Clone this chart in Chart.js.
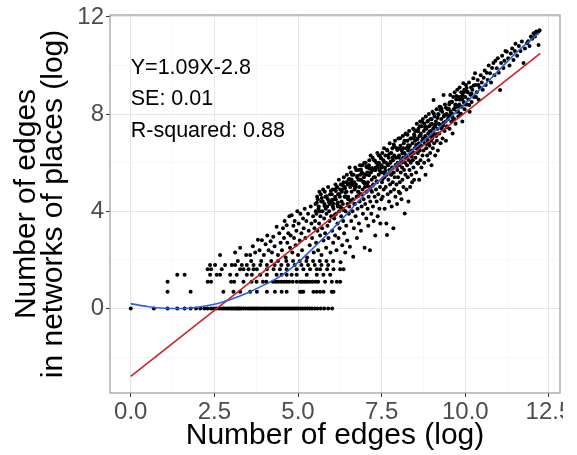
<!DOCTYPE html>
<html>
<head>
<meta charset="utf-8">
<script src="https://cdn.jsdelivr.net/npm/chart.js@4/dist/chart.umd.min.js"></script>
<style>
html,body{margin:0;padding:0;background:#fff;}
canvas{display:block;}
</style>
</head>
<body>
<canvas id="c" width="577" height="455"></canvas>
<script>
// ---- axis ticks ----
const xMajorTicks = [0, 2.5, 5, 7.5, 10, 12.5];
const xMinorTicks = [1.25, 3.75, 6.25, 8.75, 11.25];
const yMajorTicks = [0, 4, 8, 12];
const yMinorTicks = [-2, 2, 6, 10];

// ---- annotation text ----
const statLines = ['Y=1.09X-2.8', 'SE: 0.01', 'R-squared: 0.88'];

// ---- discrete low rows (y = log of small counts) ----
const rowLevels = [0, 0.69, 1.1, 1.39, 1.61, 1.79, 1.95];
const rowX0 = [0,0.69,1.1,1.39,1.61,1.79,1.95,2.08,2.2,2.3,2.4,2.48,2.56,2.64,2.71,2.77,2.83,2.89,2.94,3.0,3.04,3.09,3.14,3.18,3.22,3.26,3.3,3.37,3.43,3.5,3.56,3.61,3.66,3.71,3.76,3.81,3.87,3.93,3.99,4.04,4.1,4.16,4.22,4.28,4.34,4.4,4.46,4.52,4.58,4.64,4.7,4.76,4.82,4.88,4.94,5.0,5.07,5.14,5.21,5.28,5.35,5.42,5.5,5.58,5.68,5.78,5.9,6.02];
const rowX1 = [1.1,1.79,2.77,3.07,3.27,3.57,3.77,4.07,4.31,4.51,4.66,5.06,5.1,5.16,5.46,5.56,5.66,5.76,6.01,6.06];
const rowX2 = [1.1,2.3,2.4,3.0,3.09,3.37,3.61,3.76,3.95,4.05,4.25,4.33,4.41,4.5,4.58,4.66,4.74,4.84,4.96,5.06,5.13,5.2,5.27,5.35,5.43,5.52,5.6,5.81,6.01,6.16,6.26];
const rowX3 = [1.39,1.61,2.37,2.57,2.67,2.97,3.17,3.47,3.62,3.87,4.07,4.36,4.51,4.66,4.81,4.96,5.26,5.56,5.76,5.96];
const rowX4 = [2.3,2.4,2.72,3.27,3.37,3.52,3.67,3.77,4.07,4.27,4.46,4.66,4.96,5.16,5.36,5.56,5.66,5.87,6.06,6.26,6.36];
const rowX5 = [2.37,2.52,2.82,3.02,3.12,3.32,3.47,3.67,3.87,4.07,4.3,4.5,4.7,4.9,5.1,5.3,5.5,5.7,5.9];
const rowX6 = [3.2,3.6,3.9,4.2,4.4,4.65,4.85,5.05,5.25,5.45,5.65,5.85,6.05];

// ---- main point cloud [x, y] ----
const cloudLow = [
[2.67,2.2],[3.27,2.5],[3.12,2.3],[3.45,2.2],
[3.57,2.2],[3.65,2.56],[3.72,2.3],[3.8,2.83],[3.85,2.4],[3.92,2.81],[3.98,2.2],[4.03,2.64],[4.08,3.0],[4.12,2.4],[4.18,2.77],[4.22,2.3],[4.26,2.95],[4.3,2.56],[4.36,3.36],[4.4,2.2],[4.44,3.1],[4.48,2.7],
[4.52,2.4],[4.55,3.3],[4.58,2.9],[4.6,3.6],[4.63,2.1],[4.66,3.43],[4.68,2.7],[4.71,3.1],[4.74,3.8],[4.76,2.5],[4.78,3.0],[4.81,3.84],[4.83,2.3],[4.86,3.4],[4.88,2.9],[4.9,3.6],[4.93,2.6],[4.95,3.2],[4.98,4.0],[5.0,2.2],[5.02,3.5],[5.05,2.8],[5.07,3.9],[5.1,3.1],[5.12,2.4],[5.15,3.7],[5.17,3.3],[5.2,4.1],[5.22,2.9],[5.25,3.6],[5.27,2.1],[5.3,3.9],[5.32,3.2],[5.35,2.6],[5.38,4.2],[5.4,3.5],[5.42,2.9],[5.45,3.8],[5.47,2.3],[5.49,3.3]
];
const cloudMid = [
[5.51,3.6],[5.52,4.3],[5.54,2.7],[5.55,3.9],[5.57,4.6],[5.58,3.2],[5.6,2.4],[5.61,4.1],[5.63,3.5],[5.64,4.8],[5.66,3.0],[5.67,3.8],[5.69,4.4],[5.7,2.2],[5.72,3.3],[5.73,4.0],[5.75,4.9],[5.76,2.8],[5.78,3.7],[5.79,4.3],[5.81,3.1],[5.82,4.6],[5.84,2.5],[5.85,3.9],[5.87,4.2],[5.88,3.4],[5.9,5.0],[5.91,2.9],[5.93,4.0],[5.94,3.6],[5.96,4.7],[5.97,2.3],[5.99,3.8],[6.0,4.4],[6.02,3.2],[6.03,4.9],[6.05,2.7],[6.06,4.1],[6.08,3.7],[6.09,4.5],[6.11,3.0],[6.12,5.1],[6.14,3.9],[6.15,2.4],[6.17,4.3],[6.18,3.5],[6.2,4.7],[6.21,2.9],[6.23,4.0],[6.24,3.3],[6.26,4.9],[6.27,1.9],[6.29,3.8],[6.3,4.4],[6.32,2.6],[6.33,4.1],[6.35,3.6],[6.36,5.2],[6.38,3.1],[6.39,4.6],[6.41,2.3],[6.42,4.0],[6.44,3.4],[6.45,4.8],[6.47,2.8],[6.48,4.3],
[5.53,4.0],[5.59,4.5],[5.62,4.2],[5.68,4.7],[5.74,4.4],[5.8,4.8],[5.83,4.1],[5.89,4.5],[5.95,4.3],[6.01,4.7],[6.04,4.2],[6.1,4.9],[6.13,4.5],[6.16,5.0],[6.19,4.2],[6.22,5.3],[6.25,4.6],[6.28,5.1],[6.31,4.8],[6.34,4.3],[6.37,5.4],[6.4,5.0],[6.43,4.6],[6.46,5.5],[6.49,5.1],
[6.5,4.6],[6.51,5.3],[6.52,3.9],[6.53,4.2],[6.55,2.54],[6.56,5.0],[6.57,4.4],[6.58,5.6],[6.59,3.6],[6.6,4.8],[6.62,5.2],[6.63,4.0],[6.64,4.5],[6.65,2.13],[6.66,5.5],[6.67,3.3],[6.69,4.9],[6.7,4.3],[6.71,5.8],[6.72,3.8],[6.73,5.1],[6.75,4.6],[6.76,2.9],[6.77,5.4],[6.78,4.1],[6.79,4.8],[6.81,5.7],[6.82,3.5],[6.83,5.0],[6.84,4.4],[6.85,5.9],[6.87,4.7],[6.88,3.2],[6.89,5.3],[6.9,4.2],[6.91,5.6],[6.93,4.9],[6.94,3.9],[6.95,5.2],[6.96,4.5],[6.98,6.0],[6.99,2.5],[7.0,5.0],[7.01,4.3],[7.03,5.5],[7.04,3.7],[7.05,4.8],[7.06,5.8],[7.08,4.1],[7.09,5.2],[7.1,3.4],[7.11,4.6],[7.13,6.1],[7.14,5.0],[7.15,2.4],[7.16,4.4],[7.18,5.6],[7.19,3.9],[7.2,5.3],[7.21,4.8],[7.23,6.2],[7.24,4.2],[7.25,5.1],[7.26,3.6],[7.28,5.7],[7.29,4.6],[7.3,5.4],[7.31,3.0],[7.33,4.9],[7.34,6.0],[7.35,4.4],[7.36,5.2],[7.38,3.8],[7.39,5.8],[7.4,4.7],[7.41,5.5],[7.43,4.1],[7.44,6.3],[7.45,5.0],[7.46,3.5],[7.48,5.6],[7.49,4.5],
[6.54,5.8],[6.61,5.5],[6.68,5.2],[6.74,5.7],[6.8,5.3],[6.86,5.5],[6.92,5.9],[6.97,5.4],[7.02,6.0],[7.07,5.6],[7.12,5.9],[7.17,6.3],[7.22,5.7],[7.27,6.1],[7.32,5.8],[7.37,6.4],[7.42,6.0],[7.47,6.2]
];
const cloudHigh = [
[7.5,5.9],[7.51,5.2],[7.52,6.4],[7.53,4.6],[7.54,5.6],[7.55,6.1],[7.56,4.9],[7.57,6.6],[7.58,5.4],[7.59,4.1],[7.6,5.8],[7.61,6.3],[7.62,5.0],[7.63,6.0],[7.64,3.5],[7.65,5.5],[7.66,3.02],[7.67,6.5],[7.68,4.7],[7.69,5.9],[7.7,5.3],[7.71,6.2],[7.72,4.4],[7.73,5.7],[7.74,6.8],[7.75,5.1],[7.76,6.0],[7.77,4.8],[7.78,5.5],[7.79,6.4],[7.8,4.2],[7.81,5.8],[7.82,6.6],[7.83,5.2],[7.84,6.1],[7.85,3.3],[7.86,5.6],[7.87,4.9],[7.88,6.3],[7.89,5.4],[7.9,6.9],[7.91,4.6],[7.92,5.9],[7.93,6.2],[7.94,5.1],[7.95,6.6],[7.96,4.3],[7.97,5.7],[7.98,6.0],[7.99,5.4],[8.0,7.0],[8.01,4.8],[8.02,6.3],[8.03,5.9],[8.04,5.2],[8.05,4.74],[8.06,6.7],[8.07,5.6],[8.08,6.1],[8.09,4.5],[8.1,6.5],[8.11,5.8],[8.12,5.3],[8.13,7.1],[8.14,6.2],[8.15,5.0],[8.16,6.8],[8.17,5.7],[8.18,6.4],[8.19,3.91],[8.2,6.0],[8.21,5.5],[8.22,7.2],[8.23,6.6],[8.24,4.9],[8.25,6.2],[8.26,5.9],[8.27,6.9],[8.28,5.4],[8.29,6.5],[8.3,4.4],[8.31,6.1],[8.32,7.3],[8.33,5.7],[8.34,6.7],[8.35,5.0],[8.36,6.3],[8.37,6.0],[8.38,7.0],[8.39,5.5],[8.4,6.5],[8.41,5.2],[8.42,6.8],[8.43,6.1],[8.44,7.4],[8.45,5.8],[8.46,6.4],[8.47,5.3],[8.48,7.1],[8.49,6.6],
[8.5,6.9],[8.51,6.2],[8.52,7.3],[8.53,5.6],[8.54,6.6],[8.55,7.6],[8.56,6.0],[8.57,7.0],[8.58,6.4],[8.59,5.97],[8.6,7.4],[8.61,6.8],[8.62,5.3],[8.63,7.1],[8.64,6.5],[8.65,7.7],[8.66,6.1],[8.67,7.2],[8.68,6.7],[8.69,5.8],[8.7,7.5],[8.71,6.9],[8.72,6.3],[8.73,7.8],[8.74,7.0],[8.75,6.5],[8.76,7.3],[8.77,6.0],[8.78,7.6],[8.79,6.8],[8.8,7.1],[8.81,5.5],[8.82,7.9],[8.83,6.6],[8.84,7.4],[8.85,7.0],[8.86,6.3],[8.87,7.7],[8.88,6.9],[8.89,7.2],[8.9,6.1],[8.91,8.0],[8.92,7.5],[8.93,6.7],[8.94,7.1],[8.95,6.4],[8.96,7.8],[8.97,7.3],[8.98,6.9],[8.99,5.9],[9.0,7.6],[9.01,7.0],[9.02,8.1],[9.03,6.6],[9.04,7.4],[9.05,8.58],[9.06,7.2],[9.07,6.8],[9.08,7.9],[9.09,7.5],[9.1,6.3],[9.12,7.7],[9.13,7.1],[9.14,8.2],[9.15,6.9],[9.17,7.4],[9.18,6.5],[9.19,8.0],[9.21,7.6],[9.22,7.2],[9.23,8.3],[9.25,8.17],[9.26,6.8],[9.28,7.8],[9.29,7.4],[9.31,8.1],[9.32,7.0],[9.34,7.6],[9.35,8.79],[9.36,7.9],[9.38,7.3],[9.39,8.4],[9.41,7.7],[9.42,6.9],[9.44,8.0],[9.45,7.5],[9.47,8.2],[9.48,7.8]
];
const cloudTop = [
[9.5,7.9],[9.52,8.4],[9.53,7.4],[9.55,8.79],[9.56,8.1],[9.58,7.7],[9.59,8.5],[9.61,8.0],[9.62,7.2],[9.64,8.7],[9.65,8.2],[9.67,7.8],[9.68,8.9],[9.7,8.4],[9.71,7.6],[9.73,8.6],[9.74,8.1],[9.76,9.0],[9.77,8.3],[9.79,7.9],[9.8,8.7],[9.82,8.4],[9.83,9.1],[9.85,8.0],[9.86,8.6],[9.88,8.9],[9.89,8.3],[9.91,7.7],[9.92,8.8],[9.94,9.27],[9.95,8.5],[9.97,9.0],[9.98,8.2],[10.0,8.7],[10.02,9.2],[10.04,9.07],[10.05,8.4],[10.07,8.9],[10.09,8.6],[10.11,9.3],[10.13,8.1],[10.15,8.8],[10.17,9.1],[10.19,8.5],[10.21,9.0],[10.24,9.48],[10.26,8.7],[10.29,9.68],[10.31,9.2],[10.34,8.9],[10.37,9.4],[10.4,8.6],[10.43,9.1],[10.46,9.6],[10.49,9.3],
[10.52,9.0],[10.55,9.5],[10.58,9.8],[10.61,9.2],[10.64,9.7],[10.67,9.4],[10.7,10.0],[10.74,9.68],[10.77,9.3],[10.8,9.9],[10.84,10.1],[10.87,9.6],[10.9,10.2],[10.94,9.89],[10.97,10.3],[11.0,9.7],[11.04,8.99],[11.07,10.1],[11.1,10.4],[11.14,9.9],[11.17,10.2],[11.2,10.6],[11.24,10.57],[11.28,10.3],[11.32,10.0],[11.36,10.5],[11.4,10.7],[11.44,10.23],[11.48,10.6],[11.5,10.9],
[11.55,10.4],[11.6,10.8],[11.65,10.6],[11.69,10.99],[11.74,10.1],[11.78,10.7],[11.84,10.92],[11.88,11.0],[11.92,10.8],[11.96,11.2],[12.0,11.1],[12.04,11.33],[12.08,11.2],[12.12,11.4],[12.14,11.33],[12.19,11.4],[12.19,10.85],[12.22,11.45]
];
// densest part of the band
const cloudDense = [
[6.02,4.47],[6.09,3.85],[6.13,4.84],[6.19,4.36],[6.24,4.21],[6.31,4.89],[6.36,4.05],[6.42,4.76],[6.47,4.57],[6.53,5.33],[6.58,4.44],[6.62,5.08],[6.68,4.3],[6.72,4.99],[6.77,5.45],[6.81,4.79],[6.86,5.3],[6.9,4.69],[6.95,5.55],[6.99,5.14],
[7.04,5.84],[7.08,5.04],[7.12,5.48],[7.17,4.89],[7.21,5.78],[7.26,5.39],[7.3,6.08],[7.35,5.24],[7.39,5.88],[7.44,5.68],[7.48,6.18],[7.53,5.33],[7.57,6.03],[7.61,5.67],[7.66,6.53],[7.7,5.92],[7.75,6.38],[7.79,5.52],[7.83,6.21],[7.88,6.67],[7.92,5.91],[7.97,6.52],
[8.01,6.21],[8.05,7.01],[8.1,6.01],[8.14,6.6],[8.18,6.9],[8.23,6.3],[8.27,7.15],[8.31,6.64],[8.36,7.0],[8.4,6.24],[8.45,7.02],[8.49,7.34],[8.53,6.73],[8.58,7.29],[8.62,6.63],[8.66,7.13],[8.71,7.68],[8.75,6.93],[8.8,7.43],[8.84,6.77],[8.88,7.72],[8.93,7.27],[8.97,7.57],
[9.02,7.12],[9.06,8.02],[9.11,7.57],[9.15,7.17],[9.2,7.97],[9.24,7.56],[9.29,8.22],[9.33,7.51],[9.37,7.96],[9.42,8.26],[9.46,7.46],[9.51,8.21],[9.55,7.96],[9.6,8.51],[9.64,7.8],[9.69,8.26],[9.73,8.75],[9.78,8.11],[9.82,8.6],[9.87,8.01],[9.91,8.62],[9.96,8.91],
[10.0,8.4],[10.06,8.92],[10.12,8.38],[10.18,8.85],[10.25,9.18],[10.32,8.7],[10.39,9.2],
[6.05,4.31],[6.17,4.99],[6.28,4.16],[6.4,4.94],[6.5,4.5],[6.6,5.31],[6.7,5.02],[6.79,4.62],[6.88,5.72],[6.97,5.22],[7.06,5.12],[7.14,5.75],[7.23,5.05],[7.32,5.7],[7.41,6.3],[7.5,5.8],[7.59,5.55],[7.68,6.3],[7.77,6.05],[7.86,6.75],[7.95,5.85],
[8.03,6.58],[8.12,6.38],[8.21,7.18],[8.29,6.72],[8.38,6.37],[8.47,7.17],[8.56,6.97],[8.64,7.5],[8.73,7.0],[8.82,7.48],[8.91,6.8],[8.99,7.79],[9.08,7.49],[9.17,7.84],[9.26,8.29],[9.35,7.64],[9.44,7.98],[9.53,8.48],[9.62,7.88],[9.71,8.38],[9.8,8.33],[9.89,8.73],[9.98,8.43],
[5.56,4.35],[5.65,4.0],[5.71,4.55],[5.79,4.22],[5.86,4.62],[5.92,4.38],[5.98,4.85],[6.11,4.6],[6.23,4.7],[6.35,5.05],[6.45,5.2],[6.56,5.15]
];

// ---- fitted lines ----
const fitX = [0, 12.24];
const fitY = [-2.8, 10.5];
const smoothX = [0, 0.5, 1.0, 1.5, 2.0, 2.5, 3.0, 3.5, 4.0, 4.5, 5.0, 5.5, 6.0, 6.5, 7.0, 7.5, 8.0, 8.5, 9.0, 9.5, 10.0, 10.5, 11.0, 11.5, 12.2];
const smoothY = [0.2, 0.08, 0.01, 0.0, 0.05, 0.17, 0.38, 0.65, 0.98, 1.35, 1.9, 2.55, 3.22, 3.95, 4.7, 5.35, 6.0, 6.6, 7.2, 7.8, 8.45, 9.1, 9.8, 10.5, 11.35];

// ---- build datasets ----
const rowLists = [rowX0, rowX1, rowX2, rowX3, rowX4, rowX5, rowX6];
const points = [];
rowLists.forEach((xs, i) => xs.forEach(x => points.push({x: x, y: rowLevels[i]})));
[cloudLow, cloudMid, cloudHigh, cloudTop, cloudDense].forEach(arr => arr.forEach(p => points.push({x: p[0], y: p[1]})));
const fitData = fitX.map((x, i) => ({x: x, y: fitY[i]}));
const smoothData = smoothX.map((x, i) => ({x: x, y: smoothY[i]}));

const FONT = '"Liberation Sans", Arial, Helvetica, sans-serif';

const panelPlugin = {
  id: 'panel',
  beforeDraw(chart) {
    const c = chart.ctx;
    c.save();
    c.fillStyle = '#fff';
    c.fillRect(0, 0, chart.width, chart.height);
    c.restore();
  },
  afterDraw(chart) {
    const c = chart.ctx, a = chart.chartArea;
    c.save();
    c.strokeStyle = '#9a9a9a';
    c.lineWidth = 1.2;
    c.strokeRect(a.left, a.top, a.right - a.left, a.bottom - a.top);
    const xs = chart.scales.x, ys = chart.scales.y;
    c.fillStyle = '#000';
    c.font = '21.5px ' + FONT;
    c.textBaseline = 'middle';
    c.textAlign = 'left';
    const tx = xs.getPixelForValue(0);
    statLines.forEach((t, i) => {
      c.fillText(t, tx, ys.getPixelForValue(9.9 - i * 1.3));
    });
    // the original image is cropped just past the last x label
    c.fillStyle = '#fff';
    c.fillRect(563, a.bottom + 6, chart.width - 563, chart.height - a.bottom);
    c.restore();
  }
};

function isIn(arr, v) { return arr.some(m => Math.abs(m - v) < 1e-6); }

new Chart(document.getElementById('c'), {
  type: 'scatter',
  data: {
    datasets: [
      { type: 'line', data: smoothData, borderColor: '#2f5fd6', borderWidth: 1.6, pointRadius: 0, cubicInterpolationMode: 'monotone', fill: false, order: 1 },
      { type: 'line', data: fitData, borderColor: '#cc2228', borderWidth: 1.6, pointRadius: 0, tension: 0, fill: false, order: 2 },
      { type: 'scatter', data: points, backgroundColor: '#000', borderColor: '#000', borderWidth: 0, pointRadius: 2.0, pointHoverRadius: 2.0, order: 3 }
    ]
  },
  options: {
    responsive: false,
    animation: false,
    events: [],
    layout: { padding: { top: 15, right: 17, left: 0, bottom: 0 } },
    plugins: { legend: { display: false }, tooltip: { enabled: false } },
    scales: {
      x: {
        type: 'linear', min: -0.62, max: 12.83,
        afterBuildTicks: s => { s.ticks = xMajorTicks.concat(xMinorTicks).sort((a, b) => a - b).map(v => ({value: v})); },
        afterFit: s => { s.height = 62; s.paddingLeft = 0; s.paddingRight = 0; },
        ticks: {
          font: { family: FONT, size: 24 }, color: '#4d4d4d', padding: 1, maxRotation: 0, autoSkip: false,
          callback: v => isIn(xMajorTicks, v) ? v.toFixed(1) : ''
        },
        grid: {
          color: c => (c.tick && isIn(xMajorTicks, c.tick.value)) ? '#e6e6e6' : '#f3f3f3',
          lineWidth: c => (c.tick && isIn(xMajorTicks, c.tick.value)) ? 1 : 0.7,
          tickColor: c => (c.tick && isIn(xMajorTicks, c.tick.value)) ? '#333' : 'rgba(0,0,0,0)',
          tickLength: 4, drawTicks: true
        },
        border: { display: false },
        title: { display: true, text: 'Number of edges (log)', color: '#000', font: { family: FONT, size: 30, lineHeight: 1 }, padding: { top: 0, bottom: 4 } }
      },
      y: {
        type: 'linear', min: -3.48, max: 12.08,
        afterBuildTicks: s => { s.ticks = yMajorTicks.concat(yMinorTicks).sort((a, b) => a - b).map(v => ({value: v})); },
        afterFit: s => { s.width = 110; s.paddingTop = 0; s.paddingBottom = 0; },
        ticks: {
          font: { family: FONT, size: 24 }, color: '#4d4d4d', padding: 2, autoSkip: false,
          callback: v => isIn(yMajorTicks, v) ? String(v) : ''
        },
        grid: {
          color: c => (c.tick && isIn(yMajorTicks, c.tick.value)) ? '#e6e6e6' : '#f3f3f3',
          lineWidth: c => (c.tick && isIn(yMajorTicks, c.tick.value)) ? 1 : 0.7,
          tickColor: c => (c.tick && isIn(yMajorTicks, c.tick.value)) ? '#333' : 'rgba(0,0,0,0)',
          tickLength: 4, drawTicks: true
        },
        border: { display: false },
        title: { display: true, text: ['Number of edges', 'in networks of places (log)'], color: '#000', font: { family: FONT, size: 30, lineHeight: 0.9 }, padding: { top: 13, bottom: 0 } }
      }
    }
  },
  plugins: [panelPlugin]
});
</script>
</body>
</html>
